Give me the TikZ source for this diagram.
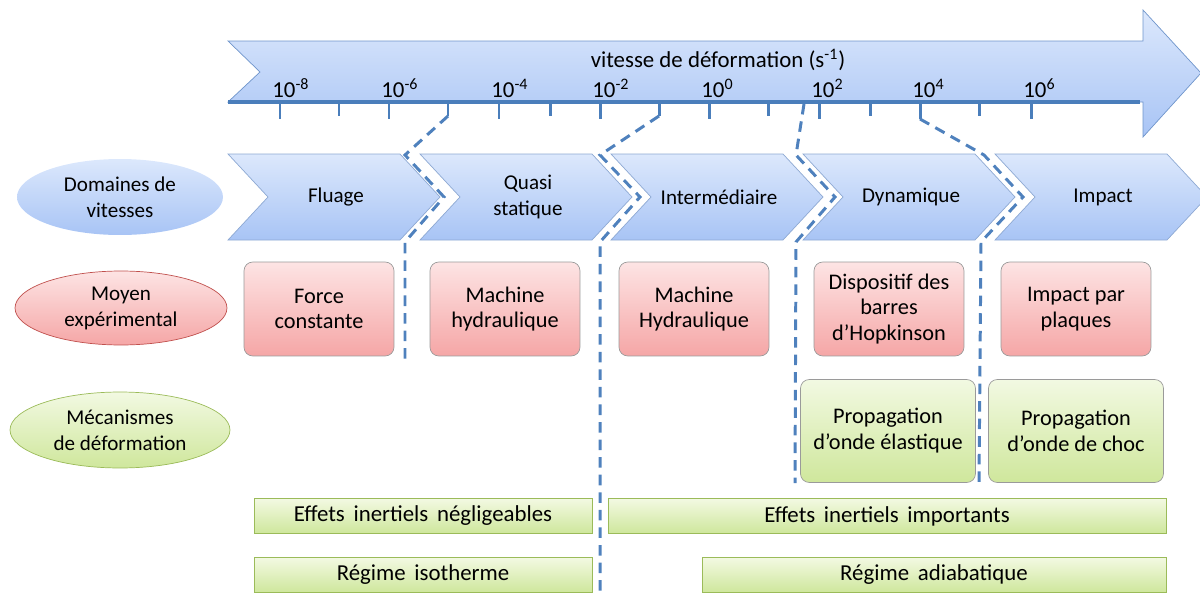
\documentclass[tikz,border=0pt]{standalone}
\usepackage{fontspec}
\setmainfont{Carlito}
\usetikzlibrary{shapes.geometric}

\definecolor{arrowtop}{HTML}{DCE8FC}
\definecolor{arrowbot}{HTML}{A8C4F5}
\definecolor{arrowline}{HTML}{6F95CB}
\definecolor{axisblue}{HTML}{4A7EBB}
\definecolor{dashblue}{HTML}{4F81BD}
\definecolor{chevline}{HTML}{8EA9D3}
\definecolor{redtop}{HTML}{FDE4E4}
\definecolor{redbot}{HTML}{F5A6A6}
\definecolor{redline}{HTML}{C0504D}
\definecolor{greentop}{HTML}{F2F9E2}
\definecolor{greenbot}{HTML}{CFE79C}
\definecolor{greenline}{HTML}{9BBB59}
\definecolor{boxline}{HTML}{9A9A9A}

\begin{document}
\begin{tikzpicture}[x=0.02cm, y=-0.02cm,
    txt/.style={font=\fontsize{12}{14.8}\selectfont, align=center, text=black},
    chev/.style={draw=chevline, top color=arrowtop, bottom color=arrowbot},
    ellip/.style={ellipse, inner sep=0pt, txt},
    redbox/.style={rounded corners=5pt, draw=boxline, top color=redtop, bottom color=redbot,
                   minimum width=3cm, minimum height=1.88cm, txt, font=\fontsize{12.7}{14.5}\selectfont},
    greenbox/.style={rounded corners=5pt, draw=boxline, top color=greentop, bottom color=greenbot,
                     minimum width=3.5cm, minimum height=2.06cm, txt, font=\fontsize{12.7}{14.8}\selectfont},
    bar/.style={draw=greenline, top color=greentop, bottom color=greenbot, minimum height=0.69cm, txt,
                font=\fontsize{13}{15}\selectfont, execute at begin node={\spaceskip=0.38em\relax}},
    divider/.style={dashblue, line width=1.7pt, dash pattern=on 6pt off 4pt},
    tickmark/.style={axisblue, line width=1.7pt}
]
\useasboundingbox (0,0) rectangle (1200,595);

%% big arrow
\path[draw=arrowline, top color=arrowtop, bottom color=arrowbot]
  (228,41) -- (1143,41) -- (1143,10) -- (1201,73) -- (1143,137) -- (1143,102) -- (228,102) -- (260,72) -- cycle;
\node[txt, font=\fontsize{13}{15}\selectfont] (title) at (718,60) {vitesse de déformation (s\textsuperscript{-1})};

%% axis and ticks
\draw[axisblue, line width=2.3pt] (228,102) -- (1140,102);
\foreach \x/\e [count=\i] in {280/-8,389/-6,499/-4,600/-2,709/0,819/2,920/4,1031/6} {
  \draw[tickmark] (\x,102) -- (\x,119) coordinate (M\i);
  \node[txt, font=\fontsize{13}{15}\selectfont, anchor=base west, inner sep=0pt] (lab\i) at (\x-8,97) {10\textsuperscript{\e}};
}
\foreach \x [count=\i] in {339,448,550,659,768,870,979}
  \draw[tickmark] (\x,102) -- (\x,116) coordinate (m\i);
\coordinate (ax) at (804,104);

%% row labels
\node[ellip, top color=arrowtop, bottom color=arrowbot, minimum width=4.12cm, minimum height=1.52cm]
  (dom) at (120,197) {Domaines de\\vitesses};
\node[ellip, draw=redline, top color=redtop, bottom color=redbot, minimum width=4.24cm, minimum height=1.48cm]
  (moy) at (121,308) {Moyen\\expérimental};
\node[ellip, draw=greenline, top color=greentop, bottom color=greenbot, minimum width=4.4cm, minimum height=1.52cm]
  (mec) at (120,430) {Mécanismes\\de déformation};

%% chevrons
\foreach \x/\n/\t in {228/flu/Fluage, 420/qua/{Quasi\\statique}, 611/int/Intermédiaire, 803/dyn/Dynamique, 995/imp/Impact} {
  \path[chev] (\x,154) -- ++(172,0) -- ++(40,43) -- ++(-40,43) -- ++(-172,0) -- ++(40,-43) -- cycle;
  \node[txt] (\n) at (\x+108,197) {\t};
}

%% experimental means
\node[redbox] (force) at (319,309) {Force\\constante};
\node[redbox] (mach1) at (505,309) {Machine\\hydraulique};
\node[redbox] (mach2) at (694,309) {Machine\\Hydraulique};
\node[redbox] (hop) at (889,309) {Dispositif des\\barres\\d’Hopkinson};
\node[redbox] (plaq) at (1076,309) {Impact par\\plaques};

%% mechanisms
\node[greenbox] (elas) at (888,431) {Propagation\\d’onde élastique};
\node[greenbox] (choc) at (1076,431) {Propagation\\d’onde de choc};

%% bottom bars
\node[bar, minimum width=6.76cm] (neg) at (423,516) {Effets inertiels négligeables};
\node[bar, minimum width=11.16cm] (imp2) at (887,516) {Effets inertiels importants};
\node[bar, minimum width=6.76cm] (iso) at (423,575) {Régime isotherme};
\node[bar, minimum width=9.28cm] (adia) at (934,575) {Régime adiabatique};

%% dividers
\draw[divider] (m2) -- (405,155) -- (444,197) -- (405,242) -- (405,365);
\draw[divider] (m4) -- (600,155) -- (640,197) -- (600,242) -- (600,595);
\draw[divider] (ax) -- (796,155) -- (835,197) -- (796,242) -- (795,483);
\draw[divider] (M7) -- (984,155) -- (1023,197) -- (981,242) -- (979,483);

\end{tikzpicture}
\end{document}
